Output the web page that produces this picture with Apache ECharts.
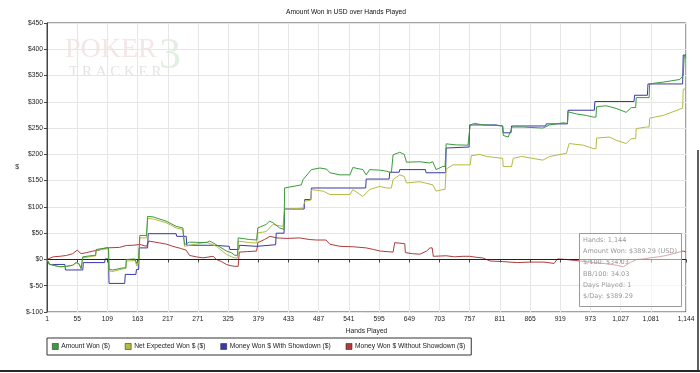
<!DOCTYPE html>
<html><head><meta charset="utf-8">
<script src="https://cdn.jsdelivr.net/npm/echarts@6/dist/echarts.min.js"></script>
<style>html,body{margin:0;padding:0;background:#fff}#c{width:700px;height:373px}</style>
</head><body><div id="c"></div>
<script>
const handCount = 1144;
const xTickHands = [1,55,109,163,217,271,325,379,433,487,541,595,649,703,757,811,865,919,973,1027,1081,1144];
const yMin = -100, yMax = 450, yStep = 50;

const seriesNames = ['Amount Won ($)', 'Net Expected Won $ ($)', 'Money Won $ With Showdown ($)', 'Money Won $ Without Showdown ($)'];
const seriesColors = ['#3a9c3a', '#b6ba42', '#3838a6', '#ad3c3c'];

// [hand, $]
const amountWon = [
[1,0],[6,-9.5],[24,-14],[36,-13],[47,-11],[53,-6],[58,-8],[62,-17.7],[64,-17],[65,5],[83,7.6],[88,8],[89,19],[107,22],[111,22],[112,-19],[119,-20],[137,-16],[142,-16],[143,0],[158,1],[162,-8],[165,0],[167,45.6],[179,45.6],[181,82],[191,81],[214,73],[232,63],[244,60],[246,60],[247,28.5],[256,33],[286,32],[292,35],[304,28],[322,16],[331,12.7],[337,8],[342,8],[343,41],[363,38],[376,37],[378,60],[393,66.5],[399,73],[405,70],[417,60],[425,57],[426,136],[441,139],[456,142],[459,152],[474,171],[489,174],[501,172],[507,165],[525,161],[543,161],[548,175],[566,171],[572,161],[578,171],[596,170],[608,168],[617,165],[620,199],[632,204],[640,200],[644,185],[668,186],[685,183.6],[691,186],[697,171],[709,177],[713,177],[715,220],[733,218],[754,217.5],[758,256],[766,259],[781,256],[805,255],[816,254],[817,236],[826,233],[833,252],[852,252],[888,250],[900,256],[924,260],[932,259],[933,281],[948,277],[966,274],[978,271],[983,271],[984,290.6],[1001,292.5],[1019,287.5],[1037,280],[1046,289],[1054,289],[1055,308],[1073,308],[1078,308],[1079,334],[1091,336],[1103,337.5],[1133,342.5],[1139,350],[1141,389],[1144,383]
];
const netExpectedWon = [
[1,0],[6,-9.5],[24,-14],[36,-13],[47,-11],[53,-6],[58,-8],[62,-16],[64,-16],[65,3],[83,6],[88,7],[89,17.7],[107,20],[111,20],[112,-22],[119,-22.8],[137,-17.7],[142,-17],[143,-3],[158,-2],[162,-12.7],[165,-5],[167,41],[179,41],[181,78],[191,77],[214,70],[232,60],[244,57],[246,57],[247,25],[286,33],[304,25],[322,9.5],[331,5],[337,3],[342,3],[343,35],[363,32],[376,31.6],[378,50.6],[393,53],[405,66.5],[423,63],[425,63],[426,95],[459,98],[461,98],[462,111],[473,113],[474,133],[495,130],[507,123.5],[543,123.5],[548,133],[566,120],[578,133],[596,139],[608,136],[617,136],[620,152],[632,161],[640,158],[644,145.6],[668,148],[691,142],[697,130],[709,133],[713,133],[715,172],[727,180],[754,180],[758,180],[760,197.5],[775,200],[787,196],[816,192.5],[817,177],[832,177],[835,192.5],[850,196],[888,189],[900,196],[930,202],[932,202],[935,220.6],[960,217.5],[978,211],[983,211],[984,231],[1007,233],[1019,227],[1037,220.6],[1046,230],[1054,230],[1055,249],[1073,252],[1078,252],[1079,269],[1103,274],[1133,286],[1138,288],[1139,324],[1144,325]
];
const wonWithShowdown = [
[1,0],[5,-9.5],[33,-9.5],[34,-20],[65,-20],[66,-6],[104,-6],[105,1],[111,1],[112,-45.6],[140,-45.6],[141,-28.5],[160,-28.5],[161,-19],[165,-19],[166,22],[181,22],[182,49],[232,49],[233,44],[250,44],[251,27],[298,27],[299,25],[327,25],[328,19],[344,19],[345,27],[376,25],[377,28],[410,28],[411,50],[425,50],[426,96],[461,96],[462,114],[473,114],[474,136],[571,136],[572,153],[613,153],[614,166],[631,166],[632,171],[678,171],[679,165],[714,165],[715,212],[756,214],[757,256],[804,256],[805,254],[816,254],[817,241],[831,241],[832,254],[893,254],[894,258],[932,258],[933,284],[980,284],[981,300.6],[1051,300.6],[1052,312.5],[1075,312.5],[1076,334],[1138,334],[1139,389],[1144,389]
];
const wonWithoutShowdown = [
[1,0],[12,5],[24,6],[36,7.6],[47,11],[55,17.7],[62,11],[72,13],[83,16],[95,18],[107,22],[131,23],[143,26.6],[155,27],[167,28.5],[179,25],[183,35],[202,31.6],[215,29],[226,25],[240,21],[250,17.7],[256,7.6],[268,5],[280,3],[298,6],[304,0],[313,-4],[322,-9.5],[330,-12],[337,-13],[343,-13],[345,14],[360,15],[376,16],[378,32],[390,38],[400,44],[412,41],[430,40],[453,41],[470,38],[483,37],[500,37],[502,38],[507,29],[525,25],[550,24],[572,22],[585,19],[597,16],[620,14],[623,32],[641,30],[642,13],[655,11],[668,10],[680,16],[686,22],[690,22],[692,6],[715,7],[730,5],[745,6],[757,6],[770,4],[780,3],[794,-3],[815,-4],[842,-6],[865,-5],[890,-5],[908,-7.6],[914,1],[930,0],[945,-2],[956,-3],[980,-6],[1000,-8],[1020,-11],[1032,-14],[1044,-6],[1056,0],[1068,1],[1079,3],[1095,5],[1109,7.6],[1127,12.7],[1139,16],[1144,14]
];
const tooltipLines = ['Hands: 1,144','Amount Won: $389.29 (USD)','$/100: $34.03','BB/100: 34.03','Days Played: 1','$/Day: $389.29'];

const FONT = "'Liberation Sans', Arial, sans-serif";
const FS = 6.7;
const categories = [];
for (let h = 1; h <= handCount; h++) categories.push(h);
const tickSet = new Set(xTickHands.map(h => h - 1));
const toData = arr => arr.map(p => [p[0] - 1, p[1]]);
const allData = [amountWon, netExpectedWon, wonWithShowdown, wonWithoutShowdown];
const zOrder = [5, 4, 3, 2];

const chart = echarts.init(document.getElementById('c'), null, {renderer: 'canvas'});
const series = allData.map((d, i) => ({
  name: seriesNames[i], type: 'line', data: toData(d), showSymbol: false, symbol: 'none',
  lineStyle: {width: 1, color: seriesColors[i]}, itemStyle: {color: seriesColors[i]},
  z: zOrder[i], silent: true, animation: false
}));
series[0].markLine = {silent: true, symbol: 'none', label: {show: false}, animation: false,
  lineStyle: {color: '#222', width: 1, type: 'solid'}, data: [{yAxis: 0}]};

const tipX = 579, tipY = 233;
const graphics = [
  {type: 'text', x: 65, y: 36, z: 0, silent: true, style: {text: 'POKER', font: "28px 'Liberation Serif', serif", fill: 'rgba(205,150,150,0.24)'}},
  {type: 'text', x: 69, y: 65, z: 0, silent: true, style: {text: 'T R A C K E R', font: "15px 'Liberation Serif', serif", fill: 'rgba(150,150,150,0.27)'}},
  {type: 'text', x: 159, y: 34, z: 0, silent: true, style: {text: '3', font: "44px 'Liberation Serif', serif", fill: 'rgba(120,180,120,0.22)'}},
  {type: 'rect', z: 100, silent: true, shape: {x: tipX + 0.5, y: tipY + 0.5, width: 102, height: 73},
    style: {fill: 'rgba(255,255,255,0.55)', stroke: '#9a9a9a', lineWidth: 1}},
  {type: 'line', z: 100, silent: true, shape: {x1: 0, y1: 371, x2: 700, y2: 371}, style: {stroke: '#2a2a2a', lineWidth: 2}},
  {type: 'line', z: 100, silent: true, shape: {x1: 698, y1: 150, x2: 698, y2: 372}, style: {stroke: '#2a2a2a', lineWidth: 1.5}}
];
tooltipLines.forEach((t, i) => graphics.push({type: 'text', z: 101, silent: true, x: tipX + 4, y: tipY + 7 + i * 11.3,
  style: {text: t, font: "6.5px 'DejaVu Sans', sans-serif", fill: '#9a9a9a', textVerticalAlign: 'middle'}}));

chart.setOption({
  animation: false,
  backgroundColor: '#fff',
  textStyle: {fontFamily: FONT},
  title: {text: 'Amount Won in USD over Hands Played', left: 286, top: 9, padding: 0,
    textStyle: {fontSize: FS, fontWeight: 'normal', color: '#111', fontFamily: FONT}},
  grid: {left: 47, right: 14, top: 23, bottom: 61, show: true, borderColor: '#444', borderWidth: 1, backgroundColor: 'transparent'},
  legend: {
    data: seriesNames, left: 47, top: 338, orient: 'horizontal', padding: [5, 6, 5, 5],
    borderColor: '#333', borderWidth: 1, icon: 'rect', itemWidth: 6, itemHeight: 6, itemGap: 15,
    itemStyle: {borderColor: '#333', borderWidth: 0.6},
    textStyle: {fontSize: FS, color: '#222', fontFamily: FONT, padding: [0, 0, 0, -2]},
    selectedMode: false
  },
  xAxis: {
    type: 'category', data: categories, boundaryGap: false,
    name: 'Hands Played', nameLocation: 'middle', nameGap: 14,
    nameTextStyle: {fontSize: FS, color: '#222', fontFamily: FONT},
    axisLine: {lineStyle: {color: '#444'}},
    axisTick: {show: true, length: 3, interval: (i) => tickSet.has(i), lineStyle: {color: '#444'}},
    axisLabel: {interval: (i) => tickSet.has(i), fontSize: FS, color: '#222', margin: 4,
      formatter: v => Number(v).toLocaleString('en-US')},
    splitLine: {show: true, interval: (i) => tickSet.has(i), lineStyle: {color: '#e6e6e6', width: 1}}
  },
  yAxis: {
    type: 'value', min: yMin, max: yMax, interval: yStep,
    name: '$', nameLocation: 'middle', nameGap: 28, nameRotate: 0,
    nameTextStyle: {fontSize: FS, color: '#222', fontFamily: FONT},
    axisLine: {show: true, lineStyle: {color: '#444'}},
    axisTick: {show: true, length: 3, lineStyle: {color: '#444'}},
    axisLabel: {fontSize: FS, color: '#222', margin: 4, formatter: v => '$' + v},
    splitLine: {show: true, lineStyle: {color: '#e6e6e6', width: 1}}
  },
  graphic: graphics,
  series: series
});
</script></body></html>
